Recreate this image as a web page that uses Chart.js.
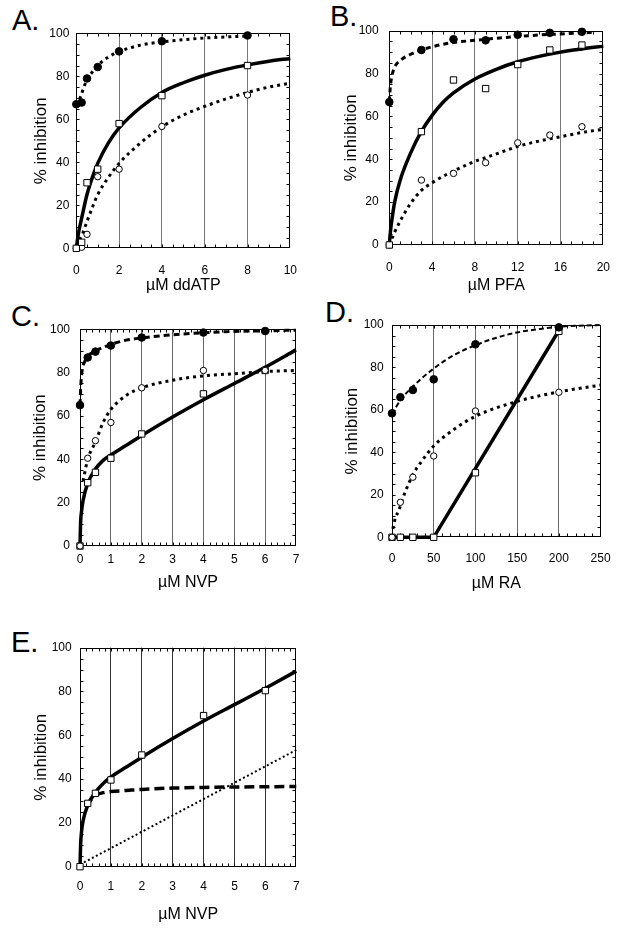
<!DOCTYPE html>
<html>
<head>
<meta charset="utf-8">
<script src="https://cdn.jsdelivr.net/npm/chart.js@4.4.0/dist/chart.umd.min.js"></script>
<style>
  body { margin: 0; background: #fff; width: 625px; height: 933px; position: relative; overflow: hidden; }
  canvas { position: absolute; }
  .tag { position: absolute; font: 29px 'Liberation Sans', Arial, sans-serif; line-height: 1; color: #000; }
</style>
</head>
<body>
<div class="tag" style="left:12px;top:6px">A.</div>
<div class="tag" style="left:330px;top:2px">B.</div>
<div class="tag" style="left:11px;top:302px">C.</div>
<div class="tag" style="left:325px;top:298px">D.</div>
<div class="tag" style="left:11px;top:628px">E.</div>

<canvas id="chartA" width="312" height="300" style="left:0;top:0"></canvas>
<canvas id="chartB" width="313" height="300" style="left:312px;top:0"></canvas>
<canvas id="chartC" width="312" height="300" style="left:0;top:300px"></canvas>
<canvas id="chartD" width="313" height="300" style="left:312px;top:300px"></canvas>
<canvas id="chartE" width="312" height="313" style="left:0;top:620px"></canvas>

<script>
var FONT = "'Liberation Sans', Arial, Helvetica, sans-serif";

// A. ddATP
var ddatpDose = [0, 0.25, 0.5, 1, 2, 4, 8];
var ddatpFilled = [67, 67.8, 79, 84.3, 91.6, 96.3, 99];
var ddatpSquare = [0, 2.8, 30.5, 36.8, 58, 71, 85];
var ddatpCircle = [0, 0.5, 6.5, 33.3, 36.8, 56.7, 71.3];
var ddatpFitFilledX = [0, 0.1, 0.25, 0.5, 0.75, 1, 1.5, 2, 3, 4, 6, 8];
var ddatpFitFilledY = [66.5, 68, 72, 78.5, 82, 85, 89, 91.5, 94.5, 96, 97.8, 98.7];
var ddatpFitSquareX = [0, 0.1, 0.25, 0.5, 0.75, 1, 1.5, 2, 3, 4, 5, 6, 7, 8, 9, 10];
var ddatpFitSquareY = [0, 7, 14, 25, 33, 39.5, 49, 56, 65.5, 72.5, 77, 80.5, 83.2, 85.3, 87, 88.3];
var ddatpFitCircleX = [0.15, 0.3, 0.5, 0.75, 1, 1.5, 2, 3, 4, 5, 6, 7, 8, 9, 10];
var ddatpFitCircleY = [4, 7, 12.5, 19, 25, 33, 39.5, 49, 56.5, 62, 66, 69.5, 72.5, 75, 76.8];

// B. PFA
var pfaDose = [0, 3, 6, 9, 12, 15, 18];
var pfaFilled = [66.7, 91, 96, 95.5, 98.1, 99, 99.5];
var pfaSquare = [0, 52.9, 77, 73, 84.2, 91, 93.3];
var pfaCircle = [0, 30.3, 33.4, 38.4, 47.7, 51.3, 55.2];
var pfaFitFilledX = [0, 0.1, 0.25, 0.5, 1, 2, 3, 4, 6, 8, 10, 12, 14, 16, 18, 19];
var pfaFitFilledY = [67, 74, 79, 83, 86, 89, 91, 92.5, 94.5, 95.5, 96.5, 97.3, 98, 98.5, 99, 99.2];
var pfaFitSquareX = [0, 0.1, 0.25, 0.5, 1, 2, 3, 4, 5, 6, 8, 10, 12, 14, 16, 18, 20];
var pfaFitSquareY = [0, 6, 12, 20, 30, 43, 53, 60.5, 66.5, 71, 77.5, 82, 85.5, 88, 90, 91.5, 92.8];
var pfaFitCircleX = [0, 0.25, 0.5, 1, 2, 3, 4, 5, 6, 8, 10, 12, 14, 16, 18, 20];
var pfaFitCircleY = [0, 3, 6, 11, 19.5, 25.5, 29, 32, 34.5, 39, 42.5, 46, 48.5, 50.5, 52.5, 54];

// C. NVP
var nvpDose = [0, 0.25, 0.5, 1, 2, 4, 6];
var nvpFilled = [65, 87, 89.7, 92.5, 96.2, 98.5, 99.2];
var nvpCircle = [0, 40.5, 48.6, 57, 73, 81, 81];
var nvpSquare = [0, 29.2, 34, 40.5, 51.7, 70.2, 81];
var nvpFitFilledX = [0, 0.03, 0.08, 0.15, 0.25, 0.5, 1, 1.5, 2, 3, 4, 5, 6, 7];
var nvpFitFilledY = [65, 75, 82, 85, 87.5, 90, 93, 95, 96, 97.5, 98.4, 99, 99.3, 99.6];
var nvpFitCircleX = [0.1, 0.25, 0.5, 0.75, 1, 1.5, 2, 3, 4, 5, 6, 7];
var nvpFitCircleY = [30, 40, 48, 57, 63, 69.5, 73, 76.5, 78.5, 79.5, 80.5, 81];
var nvpFitSquareX = [0, 0.02, 0.05, 0.1, 0.25, 0.5, 0.75, 1, 1.5, 2, 3, 4, 5, 6, 7];
var nvpFitSquareY = [0, 11, 16, 21, 29, 35.5, 39.5, 42, 46.5, 51, 59.5, 67.5, 75, 82.5, 90.5];

// D. RA
var raDose = [0, 10, 25, 50, 100, 200];
var raFilled = [58.4, 66, 69.4, 74.4, 90.9, 98.9];
var raCircle = [0, 16.5, 28.3, 38.3, 59.5, 68.3];
var raSquare = [0, 0, 0, 0, 30.4, 97];
var raFitFilledX = [0, 10, 25, 50, 75, 100, 125, 150, 175, 200, 225, 250];
var raFitFilledY = [58, 64.5, 71, 79.5, 86, 90.5, 94, 96.5, 98, 99.2, 99.7, 100];
var raFitCircleX = [1, 4, 8, 15, 25, 35, 50, 75, 100, 150, 200, 250];
var raFitCircleY = [4, 9, 12.5, 20.5, 29.5, 35.5, 43, 51, 57, 64, 68.5, 71.7];
var raFitSquareX = [0, 50, 204];
var raFitSquareY = [0, 0, 100];

// E. NVP
var eDose = [0, 0.25, 0.5, 1, 2, 4, 6];
var eSquare = [0, 28.9, 33.5, 39.6, 51, 69, 80.4];
var eFitSolidX = [0, 0.02, 0.05, 0.1, 0.25, 0.5, 0.75, 1, 1.5, 2, 3, 4, 5, 6, 7];
var eFitSolidY = [0, 10, 16, 21, 28, 34, 38, 41, 45.5, 50, 58.5, 66.5, 74, 81.5, 89.3];
var eFitDashX = [0.2, 0.35, 0.5, 0.75, 1, 1.5, 2, 3, 4, 5, 7];
var eFitDashY = [27, 30.5, 32.5, 33.8, 34.3, 34.8, 35.3, 35.9, 36.2, 36.4, 36.6];
var eFitDotX = [0, 7];
var eFitDotY = [1, 53.3];

var yTicks = [0, 20, 40, 60, 80, 100];

function xy(xs, ys) {
  return xs.map(function (x, i) { return { x: x, y: ys[i] }; });
}

function marks(xs, ys, kind) {
  var ds = { data: xy(xs, ys), showLine: false, clip: false, borderColor: '#000', borderWidth: 1 };
  if (kind === 'filled') {
    ds.pointStyle = 'circle'; ds.pointRadius = 3.8; ds.pointBackgroundColor = '#000';
  } else if (kind === 'circle') {
    ds.pointStyle = 'circle'; ds.pointRadius = 3.2; ds.pointBackgroundColor = '#fff';
  } else {
    ds.pointStyle = 'rect'; ds.pointRadius = 4.5; ds.pointBackgroundColor = '#fff';
  }
  ds.pointBorderColor = '#000';
  ds.pointBorderWidth = 1;
  return ds;
}

function fit(xs, ys, width, dash, smooth) {
  return {
    data: xy(xs, ys), showLine: true, pointRadius: 0, clip: false,
    borderColor: '#000', borderWidth: width, borderDash: dash, borderCapStyle: 'butt',
    cubicInterpolationMode: smooth ? 'monotone' : 'default', tension: 0, fill: false
  };
}

// box round the plot with small inward ticks on every side
var framePlugin = {
  id: 'frame',
  beforeDatasetsDraw: function (chart, args, opts) {
    var c = chart.ctx, a = chart.chartArea, x = chart.scales.x, y = chart.scales.y;
    var L = Math.round(a.left) + 0.5, R = Math.round(a.right) - 0.5;
    var T = Math.round(a.top) + 0.5, B = Math.round(a.bottom) - 0.5;
    c.save();
    c.strokeStyle = '#000';
    c.lineWidth = 1;
    c.beginPath();
    var n = Math.round((x.max - x.min) / opts.xMinor), i, p;
    for (i = 1; i < n; i++) {
      p = Math.round(x.getPixelForValue(x.min + i * opts.xMinor)) + 0.5;
      c.moveTo(p, B); c.lineTo(p, B - 3);
      c.moveTo(p, T); c.lineTo(p, T + 3);
    }
    n = Math.round((y.max - y.min) / opts.yMinor);
    for (i = 1; i < n; i++) {
      p = Math.round(y.getPixelForValue(y.min + i * opts.yMinor)) + 0.5;
      c.moveTo(L, p); c.lineTo(L + 3, p);
      c.moveTo(R, p); c.lineTo(R - 3, p);
    }
    c.stroke();
    c.strokeRect(L, T, R - L, B - T);
    c.restore();
  }
};

function panel(id, p) {
  var ctx = document.getElementById(id).getContext('2d');
  return new Chart(ctx, {
    type: 'scatter',
    data: { datasets: p.datasets },
    options: {
      responsive: false,
      animation: false,
      devicePixelRatio: 1,
      layout: { padding: { top: p.top, right: p.right, left: 0, bottom: 0 } },
      plugins: {
        legend: { display: false },
        tooltip: { enabled: false },
        frame: { xMinor: p.xMinor, yMinor: 5 }
      },
      scales: {
        x: {
          type: 'linear', min: p.xMin, max: p.xMax,
          afterFit: function (s) { s.height = p.xHeight; },
          border: { display: false },
          grid: {
            drawTicks: false, lineWidth: 1,
            color: function (c) {
              return (c.tick && (c.tick.value === p.xMin || c.tick.value === p.xMax)) ? 'rgba(0,0,0,0)' : p.gridColor;
            }
          },
          ticks: { stepSize: p.xStep, padding: p.xPad, color: '#000', autoSkip: false, maxRotation: 0,
                   font: { family: FONT, size: 12 } },
          title: { display: true, text: p.xTitle, color: '#000', font: { family: FONT, size: 16 },
                   padding: { top: 0, bottom: p.xTitlePad } }
        },
        y: {
          type: 'linear', min: 0, max: 100,
          afterFit: function (s) { s.width = p.yWidth; },
          afterBuildTicks: function (s) { s.ticks = yTicks.map(function (v) { return { value: v }; }); },
          border: { display: false },
          grid: { display: false, drawTicks: false },
          ticks: { padding: p.yPad, color: '#000', font: { family: FONT, size: 12 } },
          title: { display: true, text: '% inhibition', color: '#000', font: { family: FONT, size: 17 },
                   padding: { top: p.yTitlePad, bottom: 0 } }
        }
      }
    },
    plugins: [framePlugin]
  });
}

panel('chartA', {
  top: 33.3, right: 21.3, yWidth: 76.3, xHeight: 51.7,
  xMin: 0, xMax: 10, xStep: 2, xMinor: 0.5, xPad: 15, xTitlePad: 4.4,
  yPad: 7, yTitlePad: 31.5, gridColor: '#777', xTitle: '\u00b5M ddATP',
  datasets: [
    marks(ddatpDose, ddatpFilled, 'filled'),
    marks(ddatpDose, ddatpSquare, 'square'),
    marks(ddatpDose, ddatpCircle, 'circle'),
    fit(ddatpFitFilledX, ddatpFitFilledY, 3, [3, 4], true),
    fit(ddatpFitSquareX, ddatpFitSquareY, 3.5, [], true),
    fit(ddatpFitCircleX, ddatpFitCircleY, 3, [3, 4], true)
  ]
});

panel('chartB', {
  top: 30.7, right: 21.3, yWidth: 77.3, xHeight: 55,
  xMin: 0, xMax: 20, xStep: 4, xMinor: 1, xPad: 15, xTitlePad: 4.4,
  yPad: 10.6, yTitlePad: 29.5, gridColor: '#777', xTitle: '\u00b5M PFA',
  datasets: [
    marks(pfaDose, pfaFilled, 'filled'),
    marks(pfaDose, pfaSquare, 'square'),
    marks(pfaDose, pfaCircle, 'circle'),
    fit(pfaFitFilledX, pfaFitFilledY, 3, [5, 4], true),
    fit(pfaFitSquareX, pfaFitSquareY, 3.5, [], true),
    fit(pfaFitCircleX, pfaFitCircleY, 3, [3, 4], true)
  ]
});

panel('chartC', {
  top: 29.3, right: 16, yWidth: 80, xHeight: 54,
  xMin: 0, xMax: 7, xStep: 1, xMinor: 0.2, xPad: 6.7, xTitlePad: 7.4,
  yPad: 10, yTitlePad: 30.5, gridColor: '#666', xTitle: '\u00b5M NVP',
  datasets: [
    marks(nvpDose, nvpFilled, 'filled'),
    marks(nvpDose, nvpCircle, 'circle'),
    marks(nvpDose, nvpSquare, 'square'),
    fit(nvpFitFilledX, nvpFitFilledY, 3, [6, 4], true),
    fit(nvpFitCircleX, nvpFitCircleY, 3, [3, 4], true),
    fit(nvpFitSquareX, nvpFitSquareY, 3.5, [], true)
  ]
});

panel('chartD', {
  top: 25, right: 20.3, yWidth: 80, xHeight: 62.7,
  xMin: 0, xMax: 250, xStep: 50, xMinor: 10, xPad: 14.4, xTitlePad: 7.1,
  yPad: 8.3, yTitlePad: 30.5, gridColor: '#666', xTitle: '\u00b5M RA',
  datasets: [
    marks(raDose, raFilled, 'filled'),
    marks(raDose, raCircle, 'circle'),
    marks(raDose, raSquare, 'square'),
    fit(raFitFilledX, raFitFilledY, 2, [5, 3], true),
    fit(raFitCircleX, raFitCircleY, 3, [3, 4], true),
    fit(raFitSquareX, raFitSquareY, 3.5, [], false)
  ]
});

panel('chartE', {
  top: 27.7, right: 12.7, yWidth: 80, xHeight: 66.3,
  xMin: 0, xMax: 7, xStep: 1, xMinor: 0.2, xPad: 12.4, xTitlePad: 8.4,
  yPad: 8.3, yTitlePad: 31.5, gridColor: '#333', xTitle: '\u00b5M NVP',
  datasets: [
    marks(eDose, eSquare, 'square'),
    fit(eFitSolidX, eFitSolidY, 3.5, [], true),
    fit(eFitDashX, eFitDashY, 3.5, [10, 5], true),
    fit(eFitDotX, eFitDotY, 2, [2, 2.5], false)
  ]
});
</script>
</body>
</html>
